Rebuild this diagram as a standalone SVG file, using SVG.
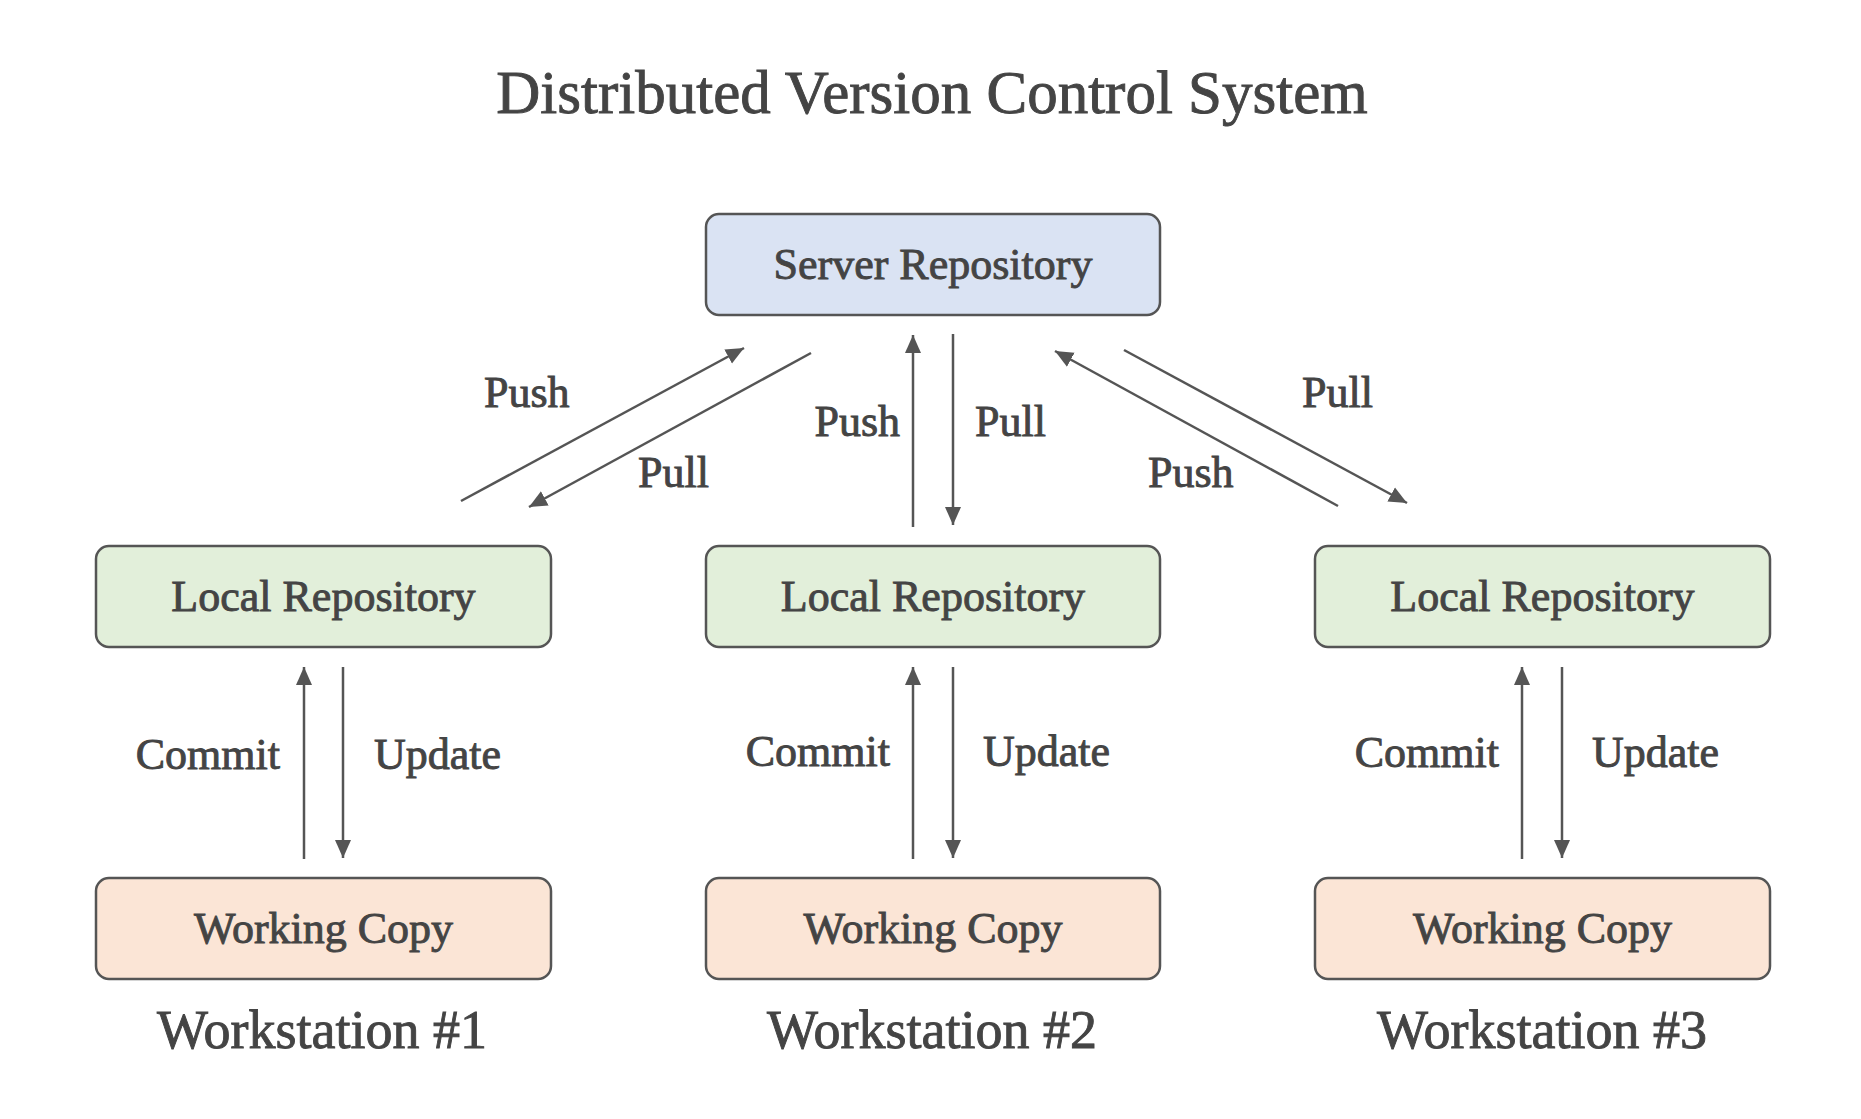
<svg xmlns="http://www.w3.org/2000/svg" width="1861" height="1119" viewBox="0 0 1861 1119">
<style>
text{font-family:"Liberation Serif","Times New Roman",serif;fill:#444;stroke:#444;stroke-width:0.9;}
.title{font-size:61px;text-anchor:middle;}
.node rect{stroke:#555;stroke-width:2.5;}
.node text{font-size:44px;text-anchor:middle;}
.server rect{fill:#dae3f3;}
.local rect{fill:#e2efda;}
.work rect{fill:#fbe5d6;}
.ws{font-size:54px;text-anchor:middle;}
.lbl{font-size:44px;}
.conn line{stroke:#555;stroke-width:2.5;fill:none;marker-end:url(#ah);}
</style>
<defs>
<marker id="ah" markerUnits="userSpaceOnUse" viewBox="-18 -9 19 18" refX="0" refY="0" markerWidth="19" markerHeight="18" orient="auto">
<path d="M-18,-8 L0,0 L-18,8 z" fill="#555"/>
</marker>
</defs>
<rect width="1861" height="1119" fill="#fff"/>
<text class="title" x="932" y="113">Distributed Version Control System</text>

<g id="server" class="node server">
<rect x="706" y="214" width="454" height="101" rx="13"/>
<text x="933" y="279">Server Repository</text>
</g>
<g id="local1" class="node local">
<rect x="96" y="546" width="455" height="101" rx="13"/>
<text x="323.5" y="611">Local Repository</text>
</g>
<g id="local2" class="node local">
<rect x="706" y="546" width="454" height="101" rx="13"/>
<text x="933" y="611">Local Repository</text>
</g>
<g id="local3" class="node local">
<rect x="1315" y="546" width="455" height="101" rx="13"/>
<text x="1542.5" y="611">Local Repository</text>
</g>
<g id="work1" class="node work">
<rect x="96" y="878" width="455" height="101" rx="13"/>
<text x="323.5" y="943">Working Copy</text>
</g>
<g id="work2" class="node work">
<rect x="706" y="878" width="454" height="101" rx="13"/>
<text x="933" y="943">Working Copy</text>
</g>
<g id="work3" class="node work">
<rect x="1315" y="878" width="455" height="101" rx="13"/>
<text x="1542.5" y="943">Working Copy</text>
</g>

<g id="ws-labels">
<text class="ws" x="322" y="1048">Workstation #1</text>
<text class="ws" x="932" y="1048">Workstation #2</text>
<text class="ws" x="1542" y="1048">Workstation #3</text>
</g>

<g id="connectors" class="conn">
<line x1="461" y1="501" x2="744" y2="348"/>
<line x1="811" y1="353" x2="529" y2="507"/>
<line x1="913" y1="527" x2="913" y2="335"/>
<line x1="953" y1="334" x2="953" y2="525"/>
<line x1="1338" y1="506" x2="1055" y2="351"/>
<line x1="1124" y1="350" x2="1407" y2="503"/>
<line x1="304" y1="859" x2="304" y2="667"/>
<line x1="343" y1="667" x2="343" y2="858"/>
<line x1="913" y1="859" x2="913" y2="667"/>
<line x1="953" y1="667" x2="953" y2="858"/>
<line x1="1522" y1="859" x2="1522" y2="667"/>
<line x1="1562" y1="667" x2="1562" y2="858"/>
</g>

<g id="labels" class="lbl">
<text x="484" y="407">Push</text>
<text x="638" y="487">Pull</text>
<text x="900" y="436" text-anchor="end">Push</text>
<text x="975" y="436">Pull</text>
<text x="1302" y="407">Pull</text>
<text x="1148" y="487">Push</text>
<text x="280" y="769" text-anchor="end">Commit</text>
<text x="374" y="769">Update</text>
<text x="890" y="766" text-anchor="end">Commit</text>
<text x="983" y="766">Update</text>
<text x="1499" y="767" text-anchor="end">Commit</text>
<text x="1592" y="767">Update</text>
</g>
</svg>
